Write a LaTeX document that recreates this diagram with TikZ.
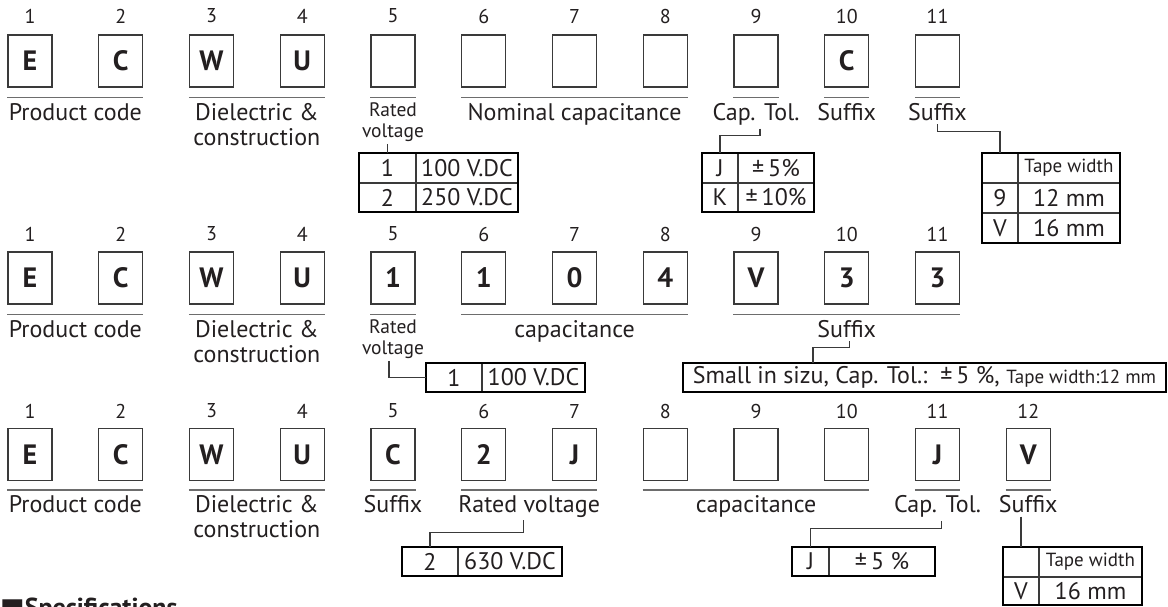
\documentclass[tikz,border=0pt]{standalone}
\usepackage{fontspec}
\setmainfont{PT Sans}
\newfontfamily\symfont{DejaVu Sans}
\usetikzlibrary{positioning}

\definecolor{ink}{HTML}{231F20}
\definecolor{boxgray}{HTML}{3A3A3A}
\definecolor{linegray}{HTML}{6D6D6D}

\begin{document}
\begin{tikzpicture}[x=1pt,y=-1pt]
	\tikzstyle{every node}=[text=ink]
	\tikzstyle{num}=[font=\fontsize{20}{22}\selectfont, inner sep=0pt]
	\tikzstyle{digit}=[draw=boxgray, line width=1.1pt, minimum width=44pt, minimum height=52pt, inner sep=0pt, font=\fontsize{28}{30}\selectfont\bfseries]
	\tikzstyle{uline}=[draw=linegray, line width=1.3pt]
	\tikzstyle{lbl}=[font=\fontsize{24}{25}\selectfont, align=center, inner sep=0pt]
	\tikzstyle{lblsmall}=[font=\fontsize{19.5}{21}\selectfont, align=center, inner sep=0pt]
	\tikzstyle{conn}=[draw=boxgray, line width=1.1pt]
	\tikzstyle{cell}=[draw=boxgray, line width=1.1pt, inner sep=0pt, outer sep=0pt, anchor=north west, font=\fontsize{24}{26}\selectfont]
	\tikzstyle{frame}=[draw=black, line width=2.2pt]
	\tikzstyle{tape}=[font=\fontsize{19}{21}\selectfont]

	\useasboundingbox (0,0) rectangle (1168,606);

	% first part number
	\foreach \i/\c in {1/E,2/C,3/W,4/U,5/{},6/{},7/{},8/{},9/{},10/C,11/{}} {
		\node[num] (r1n\i) at ({30+90.75*(\i-1)},16) {\i};
		\node[digit] (r1b\i) at ({30+90.75*(\i-1)},61) {\c};
	}
	\draw[uline] ([yshift=-10pt]r1b1.south west) -- ([yshift=-10pt]r1b2.south east)
		node[lbl, midway, below=5pt] (r1pc) {Product code};
	\draw[uline] ([yshift=-10pt]r1b3.south west) -- ([yshift=-10pt]r1b4.south east)
		node[lbl, midway, below=5pt] (r1dc) {Dielectric \&\\construction};
	\draw[uline] ([yshift=-10pt]r1b5.south west) -- ([yshift=-10pt]r1b5.south east)
		node[lblsmall, midway, below=4pt] (r1rv) {Rated\\voltage};
	\draw[uline] ([yshift=-10pt]r1b6.south west) -- ([yshift=-10pt]r1b8.south east)
		node[lbl, midway, below=5pt] (r1nc) {Nominal capacitance};
	\draw[uline] ([yshift=-10pt]r1b9.south west) -- ([yshift=-10pt]r1b9.south east)
		node[lbl, midway, below=5pt] (r1ct) {Cap. Tol.};
	\draw[uline] ([yshift=-10pt]r1b10.south west) -- ([yshift=-10pt]r1b10.south east)
		node[lbl, midway, below=5pt] (r1sa) {Suffix};
	\draw[uline] ([yshift=-10pt]r1b11.south west) -- ([yshift=-10pt]r1b11.south east)
		node[lbl, midway, below=5pt] (r1sf) {Suffix};

	% rated voltage table
	\node[cell, minimum width=57pt, minimum height=30pt] (r1v1) at (359,153) {1};
	\node[cell, minimum width=102pt, minimum height=30pt, right=0pt of r1v1] (r1v1b) {100 V.DC};
	\node[cell, minimum width=57pt, minimum height=29pt, below=0pt of r1v1] (r1v2) {2};
	\node[cell, minimum width=102pt, minimum height=29pt, right=0pt of r1v2] (r1v2b) {250 V.DC};
	\draw[frame] (r1v1.north west) rectangle (r1v2b.south east);
	\draw[conn] ([yshift=-2pt]r1rv.south -| r1v1.north) -- (r1v1.north);

	% tolerance table
	\node[cell, minimum width=36pt, minimum height=30pt] (r1t1) at (702,153) {J};
	\node[cell, minimum width=76pt, minimum height=30pt, right=0pt of r1t1] (r1t1b) {±\,5\%};
	\node[cell, minimum width=36pt, minimum height=29pt, below=0pt of r1t1] (r1t2) {K};
	\node[cell, minimum width=76pt, minimum height=29pt, right=0pt of r1t2] (r1t2b) {±\,10\%};
	\draw[frame] (r1t1.north west) rectangle (r1t2b.south east);
	\draw[conn] ([xshift=4pt,yshift=-3pt]r1ct.south) -- ++(0,7) -| (r1t1.north);

	% tape width table
	\node[cell, minimum width=36pt, minimum height=30pt] (r1w0) at (982,153) {};
	\node[cell, tape, minimum width=102pt, minimum height=30pt, right=0pt of r1w0] (r1w0b) {Tape width};
	\node[cell, minimum width=36pt, minimum height=30pt, below=0pt of r1w0] (r1w1) {9};
	\node[cell, minimum width=102pt, minimum height=30pt, right=0pt of r1w1] (r1w1b) {12 mm};
	\node[cell, minimum width=36pt, minimum height=30pt, below=0pt of r1w1] (r1w2) {V};
	\node[cell, minimum width=102pt, minimum height=30pt, right=0pt of r1w2] (r1w2b) {16 mm};
	\draw[frame] (r1w0.north west) rectangle (r1w2b.south east);
	\draw[conn] ([yshift=-3pt]r1sf.south) -- ++(0,7) -| (r1w0.north);

	% second part number
	\foreach \i/\c in {1/E,2/C,3/W,4/U,5/1,6/1,7/0,8/4,9/V,10/3,11/3} {
		\node[num] (r2n\i) at ({30+90.75*(\i-1)},234) {\i};
		\node[digit] (r2b\i) at ({30+90.75*(\i-1)},278) {\c};
	}
	\draw[uline] ([yshift=-10pt]r2b1.south west) -- ([yshift=-10pt]r2b2.south east)
		node[lbl, midway, below=5pt] (r2pc) {Product code};
	\draw[uline] ([yshift=-10pt]r2b3.south west) -- ([yshift=-10pt]r2b4.south east)
		node[lbl, midway, below=5pt] (r2dc) {Dielectric \&\\construction};
	\draw[uline] ([yshift=-10pt]r2b5.south west) -- ([yshift=-10pt]r2b5.south east)
		node[lblsmall, midway, below=4pt] (r2rv) {Rated\\voltage};
	\draw[uline] ([yshift=-10pt]r2b6.south west) -- ([yshift=-10pt]r2b8.south east)
		node[lbl, midway, below=5pt] (r2nc) {capacitance};
	\draw[uline] ([yshift=-10pt]r2b9.south west) -- ([yshift=-10pt]r2b11.south east)
		node[lbl, midway, below=5pt] (r2sf) {Suffix};

	\node[cell, minimum width=56pt, minimum height=29pt] (r2v1) at (426,363) {1};
	\node[cell, minimum width=103pt, minimum height=29pt, right=0pt of r2v1] (r2v1b) {100 V.DC};
	\draw[frame] (r2v1.north west) rectangle (r2v1b.south east);
	\draw[conn] ([xshift=-4pt,yshift=-2pt]r2rv.south) |- (r2v1.west);

	\node[cell, frame, minimum width=483pt, minimum height=29pt] (r2tab) at (683,363)
		{Small in sizu, Cap. Tol.:\ \ ±\,5 \%, {\fontsize{19}{21}\selectfont Tape width:12 mm}};
	\coordinate (r2tap) at ([xshift=130pt]r2tab.north west);
	\draw[conn] ([xshift=3pt,yshift=-3pt]r2sf.south) -- ++(0,6) -| (r2tap);

	% third part number
	\foreach \i/\c in {1/E,2/C,3/W,4/U,5/C,6/2,7/J,8/{},9/{},10/{},11/J,12/V} {
		\node[num] (r3n\i) at ({30+90.75*(\i-1)},411) {\i};
		\node[digit] (r3b\i) at ({30+90.75*(\i-1)},454.5) {\c};
	}
	\draw[uline] ([yshift=-9pt]r3b1.south west) -- ([yshift=-9pt]r3b2.south east)
		node[lbl, midway, below=5pt] (r3pc) {Product code};
	\draw[uline] ([yshift=-9pt]r3b3.south west) -- ([yshift=-9pt]r3b4.south east)
		node[lbl, midway, below=5pt] (r3dc) {Dielectric \&\\construction};
	\draw[uline] ([yshift=-9pt]r3b5.south west) -- ([yshift=-9pt]r3b5.south east)
		node[lbl, midway, below=5pt] (r3sa) {Suffix};
	\draw[uline] ([yshift=-9pt]r3b6.south west) -- ([yshift=-9pt]r3b7.south east)
		node[lbl, midway, below=5pt] (r3rv) {Rated voltage};
	\draw[uline] ([yshift=-9pt]r3b8.south west) -- ([yshift=-9pt]r3b10.south east)
		node[lbl, midway, below=5pt] (r3nc) {capacitance};
	\draw[uline] ([yshift=-9pt]r3b11.south west) -- ([yshift=-9pt]r3b11.south east)
		node[lbl, midway, below=5pt] (r3ct) {Cap. Tol.};
	\draw[uline] ([yshift=-9pt]r3b12.south west) -- ([yshift=-9pt]r3b12.south east)
		node[lbl, midway, below=5pt] (r3sf) {Suffix};

	\node[cell, minimum width=56pt, minimum height=29pt] (r3v1) at (402,547) {2};
	\node[cell, minimum width=104pt, minimum height=29pt, right=0pt of r3v1] (r3v1b) {630 V.DC};
	\draw[frame] (r3v1.north west) rectangle (r3v1b.south east);
	\draw[conn] ([xshift=-6pt,yshift=-2pt]r3rv.south) -- ++(0,12) -| (r3v1.north);

	\node[cell, minimum width=37pt, minimum height=29pt] (r3t1) at (792,547) {J};
	\node[cell, minimum width=106pt, minimum height=29pt, right=0pt of r3t1] (r3t1b) {±\,5 \%};
	\draw[frame] (r3t1.north west) rectangle (r3t1b.south east);
	\draw[conn] ([xshift=4pt,yshift=-3pt]r3ct.south) -- ++(0,7) -| (r3t1.north);

	\node[cell, minimum width=36pt, minimum height=30pt] (r3w0) at (1003,547) {};
	\node[cell, tape, minimum width=103pt, minimum height=30pt, right=0pt of r3w0] (r3w0b) {Tape width};
	\node[cell, minimum width=36pt, minimum height=28pt, below=0pt of r3w0] (r3w1) {V};
	\node[cell, minimum width=103pt, minimum height=28pt, right=0pt of r3w1] (r3w1b) {16 mm};
	\draw[frame] (r3w0.north west) rectangle (r3w1b.south east);
	\draw[conn] ([yshift=-3pt]r3sf.south -| r3w0.north) -- (r3w0.north);

	% next heading, cut by the page edge
	\node[anchor=north west, inner sep=0pt, font=\fontsize{26}{28}\selectfont\bfseries] (spec) at (0,598)
		{{\symfont ■}Specifications};
\end{tikzpicture}
\end{document}
